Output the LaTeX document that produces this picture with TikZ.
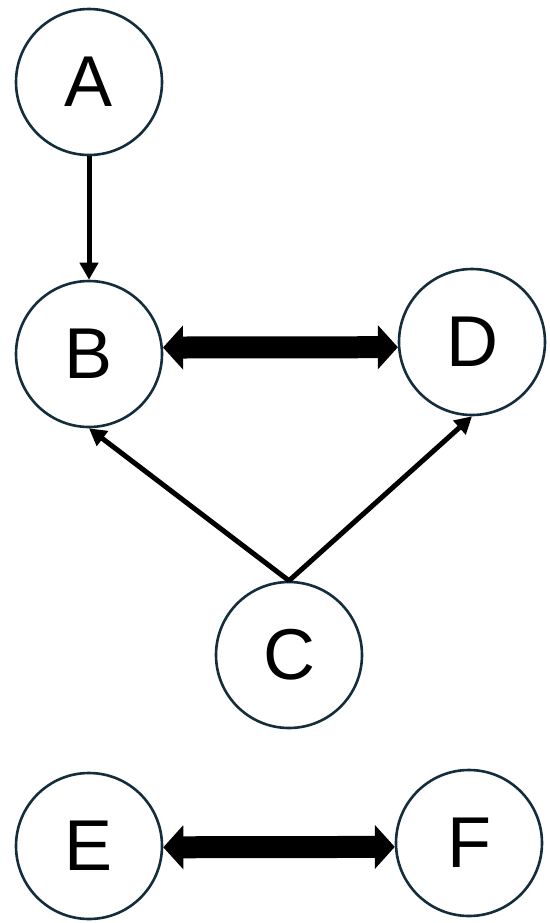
\documentclass[tikz,border=0pt]{standalone}
\usepackage{fontspec}
\setmainfont{Liberation Sans}
\usetikzlibrary{arrows.meta}
\definecolor{ringcol}{RGB}{20,45,60}
\tikzset{
	vertex/.style={circle, draw=ringcol, line width=1.3pt, fill=white, minimum size=73pt, inner sep=0pt, font=\fontsize{36}{40}\selectfont},
	thinarrow/.style={line width=2.5pt, -{Triangle[width=9pt,length=8.5pt]}},
	fatarrow/.style={line width=11pt, {Triangle[width=21.5pt,length=10pt]}-{Triangle[width=21.5pt,length=10pt]}}
}

\begin{document}
\begin{tikzpicture}[x=0.5pt,y=-0.5pt]
	\useasboundingbox (0,0) rectangle (550,923);
	
	\node [vertex] (A) at (89,82) {A};
	\node [vertex] (B) at (89,354) {B};
	\node [vertex] (D) at (472,342) {D};
	\node [vertex] (C) at (289,655) {C};
	\node [vertex] (E) at (89,846) {E};
	\node [vertex] (F) at (469,843) {F};
	
	\draw [thinarrow] (A.south) -- (B.north);
	\draw [thinarrow] (C.north) -- (B.south);
	\draw [thinarrow] (C.north) -- (D.south);
	%double arrows
	\draw [fatarrow] (B.5) -- (D.184);
	\draw [fatarrow] (E.-1) -- (F.183);
\end{tikzpicture}
\end{document}
